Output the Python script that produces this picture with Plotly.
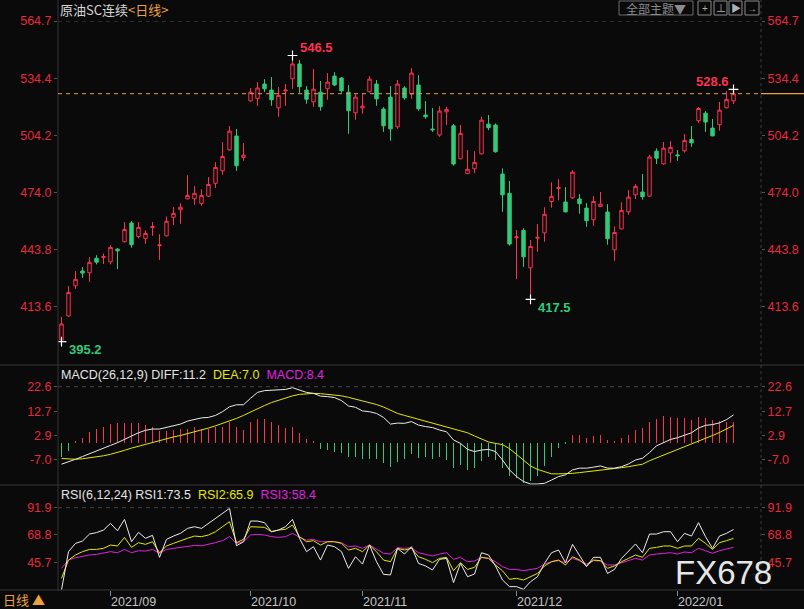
import pandas as pd
import plotly.graph_objects as go

# ---------------- data ----------------
holidays = ["2021-09-20", "2021-09-21", "2021-10-01", "2021-10-04", "2021-10-05",
            "2021-10-06", "2021-10-07", "2022-01-03"]
dates = [d.strftime("%Y-%m-%d") for d in pd.bdate_range("2021-08-23", "2022-01-14")
         if d.strftime("%Y-%m-%d") not in holidays]

open_ = [396.0, 408.7, 424.7, 432.5, 431.6, 439.3, 439.7, 437.4, 444.1, 448.0,
         457.9, 450.8, 449.8, 455.5, 445.9, 451.1, 460.9, 464.9, 470.7, 470.7,
         468.3, 472.1, 478.9, 485.5, 496.6, 503.9, 492.6, 522.5, 523.8, 531.4,
         528.2, 518.8, 527.8, 534.2, 542.0, 528.2, 522.0, 527.1, 528.9, 535.6,
         534.6, 527.1, 516.2, 518.8, 527.3, 531.4, 518.2, 524.5, 508.8, 529.3,
         526.2, 530.9, 515.0, 507.6, 504.4, 516.7, 509.3, 491.9, 484.0, 486.6,
         494.5, 510.2, 509.7, 483.8, 473.6, 450.1, 454.0, 434.2, 449.9, 452.7,
         469.3, 476.2, 469.0, 471.2, 470.6, 465.8, 459.6, 466.6, 463.7, 443.7,
         454.8, 463.8, 472.8, 474.3, 472.1, 495.9, 489.2, 495.0, 493.9, 496.1,
         502.1, 512.0, 516.0, 508.1, 509.9, 518.8, 522.5]
high = [408.2, 424.5, 432.5, 434.6, 439.9, 440.9, 441.8, 446.1, 444.6, 458.4,
        459.0, 458.4, 454.0, 458.4, 452.0, 461.4, 466.3, 468.4, 483.2, 477.4,
        475.7, 482.2, 490.1, 500.7, 509.2, 507.6, 500.2, 529.3, 532.4, 534.0,
        535.1, 529.8, 531.4, 546.5, 544.1, 530.3, 539.3, 533.0, 537.2, 537.7,
        535.1, 530.9, 526.1, 526.1, 535.6, 533.5, 519.2, 530.3, 533.5, 530.3,
        539.8, 536.1, 522.4, 518.7, 519.7, 519.4, 510.2, 509.7, 496.5, 495.9,
        514.1, 515.0, 510.6, 486.8, 480.1, 454.2, 455.1, 448.9, 457.3, 466.3,
        479.4, 481.1, 476.9, 485.9, 473.2, 468.4, 472.1, 474.3, 467.9, 456.1,
        468.8, 475.3, 478.5, 483.8, 494.0, 497.4, 500.7, 501.2, 496.5, 504.9,
        509.2, 519.2, 517.1, 512.9, 521.9, 527.7, 528.6]
low = [395.2, 408.3, 423.1, 428.9, 426.8, 436.0, 436.2, 436.0, 433.5, 447.6,
       444.8, 449.8, 446.9, 451.1, 438.4, 450.8, 456.8, 457.5, 470.5, 467.5,
       467.0, 471.6, 476.5, 483.4, 496.1, 485.5, 490.8, 522.0, 519.9, 527.1,
       519.9, 514.1, 519.9, 528.9, 526.8, 521.0, 519.4, 517.3, 523.1, 530.3,
       526.8, 505.1, 512.5, 515.7, 527.0, 519.9, 506.1, 501.4, 507.7, 523.1,
       523.6, 517.3, 513.0, 506.1, 503.5, 509.7, 488.2, 491.5, 483.8, 484.3,
       494.2, 507.0, 495.1, 463.8, 445.9, 428.2, 434.7, 417.5, 442.7, 448.0,
       466.0, 470.0, 463.6, 470.6, 462.8, 455.9, 456.4, 466.4, 446.4, 437.9,
       454.5, 462.3, 470.6, 470.2, 471.8, 489.1, 488.7, 489.8, 490.8, 495.1,
       498.2, 510.9, 506.1, 503.8, 506.7, 518.6, 520.8]
close = [404.5, 421.2, 428.1, 431.4, 437.1, 437.2, 440.1, 445.0, 443.2, 454.5,
         446.4, 455.6, 452.4, 455.9, 446.3, 458.8, 463.0, 466.2, 472.5, 473.6,
         472.5, 478.3, 487.3, 493.1, 506.5, 488.2, 493.8, 527.1, 529.3, 528.9,
         523.1, 525.4, 528.2, 542.0, 530.0, 523.4, 528.7, 519.4, 532.4, 530.9,
         527.8, 517.3, 524.5, 519.7, 534.0, 523.6, 509.3, 507.7, 531.4, 524.1,
         537.2, 518.3, 514.1, 507.2, 517.1, 518.0, 489.1, 505.3, 486.3, 490.0,
         512.3, 508.3, 495.6, 472.8, 446.8, 450.5, 440.0, 445.5, 450.3, 462.5,
         472.0, 476.6, 463.8, 484.8, 468.1, 459.1, 469.3, 467.9, 449.6, 452.9,
         464.6, 471.6, 477.3, 471.8, 492.8, 492.2, 497.5, 497.9, 493.5, 501.6,
         500.3, 518.5, 511.3, 504.0, 517.6, 523.3, 526.3]

macd_hist = [-5.6, -3.2, 0.3, 2.0, 4.4, 5.5, 6.4, 7.4, 8.1, 8.1,
             7.8, 7.8, 7.0, 6.5, 4.7, 4.8, 5.1, 5.5, 5.7, 6.4,
             5.7, 5.6, 6.4, 6.4, 8.2, 6.4, 5.1, 8.2, 9.7, 9.7,
             8.2, 7.0, 6.0, 6.3, 3.9, 1.6, 0.3, -2.7, -2.9, -3.6,
             -4.3, -5.9, -5.6, -6.4, -6.5, -6.4, -8.2, -9.8, -8.0, -6.7,
             -4.7, -6.3, -5.6, -6.7, -5.6, -6.9, -10.2, -8.9, -10.9, -10.2,
             -7.6, -5.6, -6.9, -10.2, -13.6, -14.2, -16.2, -15.6, -13.6, -9.6,
             -5.6, -2.0, -0.7, 3.2, 3.2, 1.9, 2.8, 3.1, 1.2, 0.5,
             1.7, 3.2, 5.2, 5.9, 8.5, 9.4, 10.8, 10.5, 10.1, 9.8,
             9.2, 10.5, 9.8, 9.2, 8.9, 8.5, 8.4]
diff = [-8.7, -7.8, -6.7, -5.6, -4.4, -3.2, -2.1, -1.1, 0.0, 1.4,
        2.7, 4.0, 5.0, 5.5, 5.5, 6.1, 6.6, 7.5, 8.7, 9.4,
        10.0, 10.2, 11.0, 12.5, 14.5, 15.3, 15.3, 17.9, 20.3, 21.0,
        21.1, 21.2, 21.5, 22.2, 21.2, 20.3, 19.9, 18.8, 18.6, 18.2,
        17.0, 14.8, 14.3, 12.8, 12.5, 11.8, 10.2, 7.5, 7.9, 7.8,
        8.5, 7.1, 6.5, 6.1, 5.1, 4.4, 1.1, -0.3, -2.7, -3.6,
        -3.0, -2.7, -3.6, -7.0, -11.0, -13.7, -15.7, -16.7, -16.7, -16.4,
        -15.1, -13.7, -13.0, -11.0, -10.3, -10.3, -9.9, -9.4, -10.3, -10.3,
        -9.7, -8.6, -7.0, -6.3, -4.0, -1.3, 0.0, 1.3, 2.0, 3.1,
        4.0, 5.9, 7.0, 7.3, 8.0, 9.3, 11.2]
dea = [-6.4, -6.6, -6.7, -6.5, -6.2, -5.8, -5.3, -4.7, -4.0, -3.1,
       -2.2, -1.4, -0.6, 0.2, 0.9, 1.6, 2.3, 2.9, 3.6, 4.4,
       5.1, 5.9, 6.8, 7.7, 8.6, 9.8, 11.0, 12.4, 13.7, 15.0,
       16.2, 17.2, 18.1, 18.9, 19.5, 19.8, 19.9, 19.8, 19.6, 19.3,
       18.9, 18.3, 17.6, 16.9, 16.2, 15.4, 14.4, 13.2, 11.8, 11.0,
       10.2, 9.4, 8.7, 7.9, 7.1, 6.5, 5.7, 4.9, 4.0, 2.7,
       1.4, 0.3, -0.3, -0.8, -2.4, -4.8, -7.3, -9.4, -10.8, -11.8,
       -12.6, -12.6, -12.6, -12.4, -12.1, -11.8, -11.6, -11.2, -10.8, -10.5,
       -10.1, -9.7, -9.3, -8.7, -7.3, -6.2, -5.0, -3.8, -2.7, -1.6,
       -0.5, 0.6, 1.7, 2.9, 4.1, 5.4, 7.0]

rsi1 = [22.4, 54.7, 61.7, 63.7, 69.6, 70.8, 73.0, 78.6, 72.4, 82.0,
        63.1, 71.0, 66.0, 68.5, 49.9, 65.1, 67.9, 70.2, 74.4, 75.8,
        74.4, 78.6, 82.9, 87.1, 91.3, 59.7, 63.1, 80.6, 80.6, 79.2,
        71.6, 73.0, 75.8, 82.0, 66.0, 54.7, 58.9, 47.6, 60.3, 58.9,
        54.7, 40.6, 50.4, 44.2, 60.3, 46.2, 35.5, 35.0, 57.5, 52.7,
        58.9, 44.8, 42.6, 39.2, 48.2, 49.0, 28.5, 44.8, 33.5, 35.8,
        53.8, 51.9, 42.6, 30.7, 25.1, 25.1, 22.8, 29.3, 33.5, 44.8,
        53.8, 56.1, 45.4, 60.9, 51.9, 42.0, 49.9, 49.9, 36.3, 39.7,
        49.0, 55.5, 61.2, 53.8, 69.6, 69.6, 71.6, 71.6, 63.1, 70.2,
        67.9, 79.2, 67.4, 57.5, 67.9, 70.2, 73.5]
rsi2 = [32.1, 47.6, 51.9, 54.7, 56.6, 56.6, 57.5, 60.3, 59.5, 66.8,
        58.3, 62.3, 60.9, 63.1, 53.8, 59.5, 61.7, 64.0, 66.0, 67.9,
        67.4, 68.8, 71.6, 75.8, 80.1, 62.3, 65.1, 75.8, 75.8, 75.3,
        71.6, 73.0, 73.6, 77.2, 67.4, 63.1, 64.0, 60.3, 63.1, 63.1,
        61.7, 56.1, 57.5, 54.7, 60.3, 54.7, 47.6, 46.2, 57.5, 56.1,
        57.5, 50.4, 48.2, 45.4, 49.0, 49.9, 38.6, 45.4, 39.7, 41.4,
        49.9, 49.0, 43.4, 38.5, 31.3, 32.1, 30.7, 33.5, 36.3, 42.6,
        46.2, 47.6, 43.4, 50.4, 47.6, 42.6, 47.6, 47.1, 40.6, 42.6,
        46.2, 49.0, 51.9, 49.9, 57.5, 58.3, 59.5, 59.5, 57.5, 59.5,
        59.5, 66.0, 61.7, 56.6, 62.3, 64.0, 65.9]
rsi3 = [40.6, 47.6, 49.6, 51.0, 51.9, 52.4, 53.3, 54.7, 53.8, 56.6,
        53.8, 55.5, 55.2, 56.6, 53.3, 56.6, 57.5, 58.3, 59.5, 60.0,
        59.7, 60.9, 62.3, 64.0, 67.4, 61.7, 63.1, 68.8, 69.3, 68.8,
        67.4, 66.8, 67.4, 70.2, 66.8, 64.5, 65.1, 63.1, 63.1, 63.1,
        62.3, 58.9, 59.5, 57.5, 60.3, 56.6, 53.3, 52.7, 58.0, 57.5,
        58.0, 53.8, 52.7, 51.0, 52.7, 53.8, 48.2, 49.9, 46.2, 46.8,
        49.9, 49.0, 46.2, 42.0, 39.7, 39.7, 38.6, 39.7, 40.6, 44.2,
        46.2, 47.1, 45.4, 49.0, 47.1, 44.2, 47.1, 46.8, 43.4, 43.4,
        45.4, 47.1, 49.0, 47.6, 51.9, 52.7, 53.3, 53.8, 52.7, 54.4,
        53.8, 57.5, 55.5, 53.3, 55.5, 57.2, 58.4]

price_ticks = [413.6, 443.8, 474.0, 504.2, 534.4, 564.7]
macd_ticks = [-7.0, 2.9, 12.7, 22.6]
rsi_ticks = [45.7, 68.8, 91.9]
month_ticks = ["2021-09-01", "2021-10-08", "2021-11-01", "2021-12-01", "2022-01-04"]
month_labels = ["2021/09", "2021/10", "2021/11", "2021/12", "2022/01"]

hi_idx = high.index(max(high))
lo_idx = low.index(min(low))
swing_hi_idx = len(high) - 1
swing_lo_idx = 67
last_close = close[-1]

# ---------------- style ----------------
BG = "#0a0a0a"
RED = "#ff3150"
GREEN = "#33c97a"
AXRED = "#e8283e"
WHITE = "#ececec"
YELLOW = "#e6e600"
MAGENTA = "#e020e0"
ORANGE = "#eda040"
FONT = "Liberation Sans, Noto Sans CJK SC"
CJK = "Noto Sans CJK SC"

H = 590.0  # plot-area height in px (t=0, b=19)
def py(p):
    return (H - p) / H
PW = 703.0
def px(p):
    return (p - 58) / PW

fig = go.Figure()

fig.add_trace(go.Candlestick(
    x=dates, open=open_, high=high, low=low, close=close,
    increasing=dict(line=dict(color=RED, width=1), fillcolor=BG),
    decreasing=dict(line=dict(color=GREEN, width=1), fillcolor=GREEN),
    whiskerwidth=0, showlegend=False, hoverinfo="skip", xaxis="x", yaxis="y"))

fig.add_trace(go.Scatter(
    x=[dates[hi_idx], dates[swing_hi_idx], dates[lo_idx], dates[swing_lo_idx]],
    y=[high[hi_idx], high[swing_hi_idx], low[lo_idx], low[swing_lo_idx]],
    mode="markers", marker=dict(symbol="cross-thin", size=7, line=dict(color="#ffffff", width=1.2)),
    showlegend=False, hoverinfo="skip", yaxis="y"))

fig.add_trace(go.Bar(
    x=dates, y=macd_hist, width=1 / 7,
    marker=dict(color=[RED if v >= 0 else GREEN for v in macd_hist], line=dict(width=0)),
    showlegend=False, hoverinfo="skip", yaxis="y2"))
fig.add_trace(go.Scatter(x=dates, y=dea, mode="lines", line=dict(color=YELLOW, width=1),
                         showlegend=False, hoverinfo="skip", yaxis="y2"))
fig.add_trace(go.Scatter(x=dates, y=diff, mode="lines", line=dict(color=WHITE, width=1),
                         showlegend=False, hoverinfo="skip", yaxis="y2"))

fig.add_trace(go.Scatter(x=dates, y=rsi3, mode="lines", line=dict(color=MAGENTA, width=1),
                         showlegend=False, hoverinfo="skip", yaxis="y3"))
fig.add_trace(go.Scatter(x=dates, y=rsi2, mode="lines", line=dict(color=YELLOW, width=1),
                         showlegend=False, hoverinfo="skip", yaxis="y3"))
fig.add_trace(go.Scatter(x=dates, y=rsi1, mode="lines", line=dict(color=WHITE, width=1),
                         showlegend=False, hoverinfo="skip", yaxis="y3"))

# invisible traces to activate right-side mirror axes
for ax, val in (("y4", price_ticks[0]), ("y5", macd_ticks[0]), ("y6", rsi_ticks[0])):
    fig.add_trace(go.Scatter(x=[dates[0]], y=[val], mode="markers", marker=dict(opacity=0),
                             showlegend=False, hoverinfo="skip", yaxis=ax))

main_rng = [382.8, 564.75]
macd_rng = [-17.1, 31.36]
rsi_rng = [22.26, 111.1]
main_dom = [py(365), py(21)]
macd_dom = [py(485), py(365)]
rsi_dom = [0, py(485)]

def yax(rng, dom, ticks, side="left", overlay=None):
    d = dict(range=rng, tickvals=ticks, ticktext=[f"{t:.1f}" for t in ticks],
             tickfont=dict(color=AXRED, size=12.5, family=FONT),
             ticks="outside", ticklen=3, tickcolor="#555555",
             showgrid=False, zeroline=False, showline=False, fixedrange=True,
             automargin=False, side=side, anchor="x")
    if overlay:
        d["overlaying"] = overlay
    else:
        d["domain"] = dom
    return d

fig.update_layout(
    width=804, height=609, autosize=False,
    margin=dict(l=58, r=43, t=0, b=19, pad=0),
    paper_bgcolor=BG, plot_bgcolor=BG,
    boxgap=0.3, bargap=0,
    font=dict(family=FONT, color=WHITE),
    xaxis=dict(type="category", range=[-0.5, -0.5 + PW / 7], anchor="y3", domain=[0, 1],
               rangeslider=dict(visible=False), tickvals=month_ticks, ticktext=month_labels,
               ticks="outside", ticklen=5, tickcolor="#8a8a8a",
               ticklabelposition="outside right", automargin=False,
               tickfont=dict(color="#c4c4c4", size=12.5, family=FONT),
               showgrid=False, zeroline=False, showline=False),
    yaxis=yax(main_rng, main_dom, price_ticks),
    yaxis2=yax(macd_rng, macd_dom, macd_ticks),
    yaxis3=yax(rsi_rng, rsi_dom, rsi_ticks),
    yaxis4=yax(main_rng, main_dom, price_ticks, "right", "y"),
    yaxis5=yax(macd_rng, macd_dom, macd_ticks, "right", "y2"),
    yaxis6=yax(rsi_rng, rsi_dom, rsi_ticks, "right", "y3"),
)

shapes = []
XL, XR = px(0), px(804)
for p in (365, 485, 590):
    shapes.append(dict(type="line", xref="paper", yref="paper", x0=XL, x1=XR, y0=py(p), y1=py(p),
                       line=dict(color="#383838", width=1)))
shapes.append(dict(type="line", xref="paper", yref="paper", x0=0, x1=0, y0=0, y1=1,
                   line=dict(color="#333333", width=1)))
shapes.append(dict(type="line", xref="paper", yref="paper", x0=1, x1=1, y0=0, y1=1,
                   line=dict(color="#3a3a3a", width=1, dash="dot")))
for yr, v in (("y", price_ticks[-1]), ("y2", macd_ticks[-1]), ("y3", rsi_ticks[-1])):
    shapes.append(dict(type="line", xref="paper", yref=yr, x0=0, x1=1, y0=v, y1=v,
                       line=dict(color="#444444", width=1, dash="4px,4px")))
shapes.append(dict(type="line", xref="paper", yref="y", x0=0, x1=1, y0=last_close, y1=last_close,
                   line=dict(color=ORANGE, width=1, dash="4px,4px")))
shapes.append(dict(type="line", xref="paper", yref="y", x0=1, x1=XR, y0=last_close, y1=last_close,
                   line=dict(color=ORANGE, width=1.2)))
# toolbar boxes
shapes.append(dict(type="rect", xref="paper", yref="paper", x0=px(619), x1=px(693), y0=py(15), y1=py(1),
                   line=dict(color="#6a6a6a", width=1), fillcolor=BG))
for a, b in ((698, 711), (714, 727), (729, 742), (745, 759)):
    shapes.append(dict(type="rect", xref="paper", yref="paper", x0=px(a), x1=px(b), y0=py(15), y1=py(1),
                       line=dict(color="#8a8a8a", width=1), fillcolor=BG))
fig.update_layout(shapes=shapes)

ann = []
ann.append(dict(xref="paper", yref="paper", x=px(58), y=py(10), xanchor="left", yanchor="middle",
                showarrow=False, font=dict(size=13, family=CJK),
                text='<span style="color:#d6d6d6">原油SC连续</span><span style="color:#eda040">&lt;日线&gt;</span>'))
ann.append(dict(xref="paper", yref="paper", x=px(656), y=py(8), xanchor="center", yanchor="middle",
                showarrow=False, font=dict(size=12, family=CJK, color="#8c8c8c"), text="全部主题▼"))
for cx, g in ((704.5, "+"), (720.5, "⊥"), (735.5, "▶"), (752, "→")):
    ann.append(dict(xref="paper", yref="paper", x=px(cx), y=py(8), xanchor="center", yanchor="middle",
                    showarrow=False, font=dict(size=10, family=FONT, color="#b0b0b0"), text=g))
ann.append(dict(x=dates[hi_idx], y=high[hi_idx], xref="x", yref="y", xanchor="left", yanchor="middle",
                xshift=5, yshift=8, showarrow=False, text=f"<b>{high[hi_idx]:.1f}</b>",
                font=dict(size=13, color=RED, family=FONT)))
ann.append(dict(x=dates[swing_hi_idx], y=high[swing_hi_idx], xref="x", yref="y", xanchor="right",
                yanchor="middle", xshift=-3, yshift=8, showarrow=False,
                text=f"<b>{high[swing_hi_idx]:.1f}</b>", font=dict(size=13, color=RED, family=FONT)))
ann.append(dict(x=dates[lo_idx], y=low[lo_idx], xref="x", yref="y", xanchor="left", yanchor="middle",
                xshift=5, yshift=-8, showarrow=False, text=f"<b>{low[lo_idx]:.1f}</b>",
                font=dict(size=13, color=GREEN, family=FONT)))
ann.append(dict(x=dates[swing_lo_idx], y=low[swing_lo_idx], xref="x", yref="y", xanchor="left",
                yanchor="middle", xshift=5, yshift=-8, showarrow=False,
                text=f"<b>{low[swing_lo_idx]:.1f}</b>", font=dict(size=13, color=GREEN, family=FONT)))
NB = "\u00a0"
ann.append(dict(xref="paper", yref="paper", x=px(59), y=py(375), xanchor="left", yanchor="middle",
                showarrow=False, font=dict(size=12.5, family=FONT),
                text=(f'<span style="color:#e4e4e4">MACD(26,12,9){NB}DIFF:{diff[-1]:.1f}</span>{NB}{NB}'
                      f'<span style="color:{YELLOW}">DEA:{dea[-1]:.1f}</span>{NB}{NB}'
                      f'<span style="color:{MAGENTA}">MACD:{macd_hist[-1]:.1f}</span>')))
ann.append(dict(xref="paper", yref="paper", x=px(59), y=py(495), xanchor="left", yanchor="middle",
                showarrow=False, font=dict(size=12.5, family=FONT),
                text=(f'<span style="color:#e4e4e4">RSI(6,12,24){NB}RSI1:{rsi1[-1]:.1f}</span>{NB}{NB}'
                      f'<span style="color:{YELLOW}">RSI2:{rsi2[-1]:.1f}</span>{NB}{NB}'
                      f'<span style="color:{MAGENTA}">RSI3:{rsi3[-1]:.1f}</span>')))
ann.append(dict(xref="paper", yref="paper", x=px(1), y=py(599), xanchor="left", yanchor="middle",
                showarrow=False, font=dict(size=13, family=CJK, color="#eda040"), text="日线 ▲"))
ann.append(dict(xref="paper", yref="paper", x=px(723), y=py(572), xanchor="center", yanchor="middle",
                showarrow=False, font=dict(size=33, family="Liberation Sans", color="#e6e6e6"),
                text="FX678"))
fig.update_layout(annotations=ann)

fig.write_html("out.html", config={"displayModeBar": False},
               post_script="document.body.style.margin='0px';document.body.style.background='#0a0a0a';")
